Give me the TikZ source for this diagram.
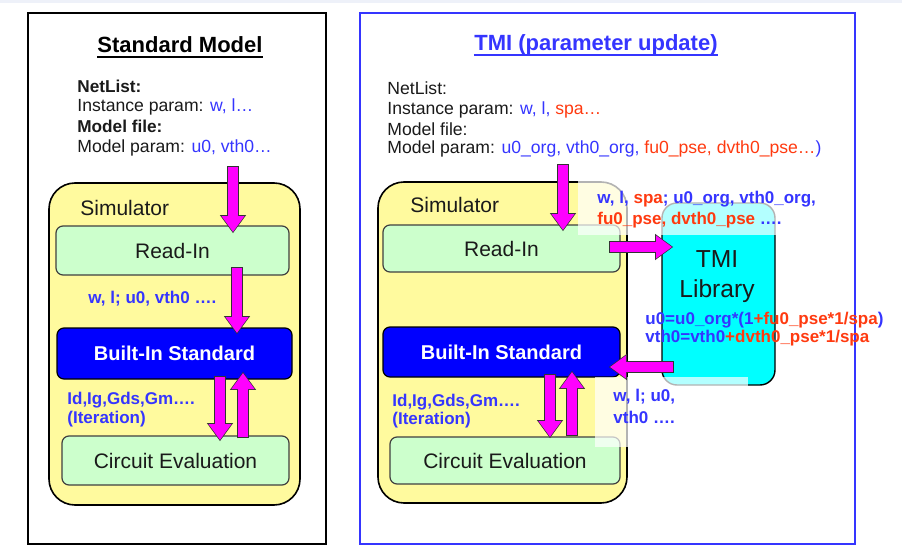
\documentclass[tikz,border=0pt]{standalone}
\usepackage{fontspec}
\setmainfont{Liberation Sans}
\usetikzlibrary{arrows.meta}
\definecolor{tblue}{HTML}{3535FF}
\definecolor{tred}{HTML}{FF3A10}
\definecolor{simy}{HTML}{FFFA9E}
\definecolor{boxg}{HTML}{CCFFCC}
\definecolor{bib}{HTML}{0000FF}
\definecolor{tmic}{HTML}{00FFFF}
\definecolor{fatm}{HTML}{FF00FF}
\definecolor{band}{HTML}{EEF1F9}
\definecolor{ink}{HTML}{1A1A1A}
\newcommand\fTitle{\bfseries\fontsize{11}{13}\selectfont}
\newcommand\fNet{\fontsize{8.8}{10}\selectfont}
\newcommand\fNetB{\bfseries\fontsize{8.6}{10}\selectfont}
\newcommand\fBox{\fontsize{10.5}{12}\selectfont}
\newcommand\fLab{\bfseries\fontsize{8.5}{10}\selectfont}
\newcommand\fTMI{\fontsize{12.3}{15}\selectfont}
\tikzset{
  frameL/.style={draw=black, line width=1pt},
  frameR/.style={draw=tblue, line width=1.2pt},
  simbox/.style={draw=black, line width=0.8pt, fill=simy, rounded corners=13pt, inner sep=0},
  stagebox/.style={draw=black!75, line width=0.6pt, fill=boxg, rounded corners=3.5pt, inner sep=0, font=\fBox, text=ink},
  stdbox/.style={draw=black, line width=0.6pt, fill=bib, rounded corners=3.5pt, inner sep=0, font=\bfseries\fontsize{10}{12}\selectfont, text=white},
  tmibox/.style={draw=black, line width=0.7pt, fill=tmic, rounded corners=7.5pt, inner sep=0},
  titletext/.style={inner sep=0, font=\fTitle},
  nettext/.style={inner sep=0, anchor=base west, font=\fNet, text=ink},
  labtext/.style={inner sep=0, anchor=base west, font=\fLab, text=tblue},
  fatout/.style={draw=black!80, line width=5.6pt, -{Triangle[width=12.4pt,length=9pt]}, shorten >=-0.6pt, shorten <=-0.5pt},
  fatin/.style={draw=fatm, line width=4.6pt, -{Triangle[width=11pt,length=8pt]}},
  veil/.style={fill=white, opacity=0.7}
}
\newcommand\fatarrow[2]{\draw[fatout] (#1) -- (#2); \draw[fatin] (#1) -- (#2);}
\begin{document}
\begin{tikzpicture}[x=0.5pt,y=-0.5pt]
\useasboundingbox (0,0) rectangle (902,546);
\fill[white] (0,0) rectangle (902,546);
\fill[band] (0,0) rectangle (902,3);

% ---------- left panel ----------
\node[frameL, inner sep=0, minimum width=149pt, minimum height=265.5pt] (frL) at (177,278.5) {};
\node[titletext] (tL) at (180,45) {Standard Model};
\draw[line width=1pt] ([yshift=-2.3pt]tL.base west) -- ([yshift=-2.3pt]tL.base east);

\node[nettext, font=\fNetB] (nL1) at (77,92) {NetList:};
\node[nettext] (nL2) at (77,112) {Instance param: \textcolor{tblue}{w, l…}};
\node[nettext, font=\fNetB] (nL3) at (77,133) {Model file:};
\node[nettext] (nL4) at (77,152) {Model param: \textcolor{tblue}{u0, vth0…}};

\node[simbox, minimum width=125.5pt, minimum height=161pt] (simL) at (174.5,344) {};
\node[inner sep=0, anchor=base west, font=\fBox, text=ink] (simLt) at (80,215.5) {Simulator};
\node[stagebox, minimum width=116.5pt, minimum height=24.5pt] (rdL) at (172.5,250.5) {Read-In};
\node[stdbox, minimum width=117.5pt, minimum height=25.5pt] (biL) at (174.5,353.5) {Built-In Standard};
\node[stagebox, minimum width=113.5pt, minimum height=24.5pt] (ceL) at (175.5,460.5) {Circuit Evaluation};

\node[labtext] (lL1) at (88,303) {w, l; u0, vth0 ….};
\node[labtext] (lL2) at (67,404) {Id,Ig,Gds,Gm….};
\node[labtext] (lL3) at (67,423) {(Iteration)};

\coordinate (a1s) at (233,167); \coordinate (a1e) at (233,232);
\coordinate (a2s) at (237,268); \coordinate (a2e) at (237,333);
\coordinate (a3s) at (220,377); \coordinate (a3e) at (220,440);
\coordinate (a4s) at (243,437); \coordinate (a4e) at (243,373);
\fatarrow{a1s}{a1e}
\fatarrow{a2s}{a2e}
\fatarrow{a3s}{a3e}
\fatarrow{a4s}{a4e}

% ---------- right panel ----------
\node[frameR, inner sep=0, minimum width=247.5pt, minimum height=265.5pt] (frR) at (607.5,278.5) {};
\node[titletext, text=tblue] (tR) at (596,45) {TMI (parameter update)};
\draw[tblue, line width=1pt] ([yshift=-2.3pt]tR.base west) -- ([yshift=-2.3pt]tR.base east);

\node[nettext] (nR1) at (387,94) {NetList:};
\node[nettext] (nR2) at (387,114) {Instance param: \textcolor{tblue}{w, l, }\textcolor{tred}{spa…}};
\node[nettext] (nR3) at (387,135) {Model file:};
\node[nettext] (nR4) at (387,154) {Model param: \textcolor{tblue}{u0\_org, vth0\_org, }\textcolor{tred}{fu0\_pse, dvth0\_pse…}\textcolor{tblue}{)}};

\node[simbox, minimum width=124.5pt, minimum height=160.5pt] (simR) at (502.5,342.5) {};
\node[inner sep=0, anchor=base west, font=\fBox, text=ink] (simRt) at (410,212.5) {Simulator};
\node[stagebox, minimum width=118.5pt, minimum height=23.5pt] (rdR) at (501.5,248.5) {Read-In};
\node[stdbox, minimum width=118.5pt, minimum height=25pt] (biR) at (501.5,352) {Built-In Standard};
\node[stagebox, minimum width=115pt, minimum height=23.5pt] (ceR) at (505,460.5) {Circuit Evaluation};
\node[tmibox, minimum width=56.5pt, minimum height=91pt] (tmi) at (718.5,294) {};

\fill[veil] (578,180) rectangle (778,235);
\fill[veil] (595,377) rectangle (748,447);

\node[inner sep=0, font=\fTMI, align=center, text=ink] (tmit) at (717,277) {TMI\\Library};

\node[labtext] (lR1) at (597,204) {w, l, \textcolor{tred}{spa}; u0\_org, vth0\_org,};
\node[labtext] (lR2) at (597,224) {\textcolor{tred}{fu0\_pse, dvth0\_pse} ….};
\node[labtext] (fR1) at (645,324) {u0=u0\_org*(1\textcolor{tred}{+fu0\_pse*1/spa})};
\node[labtext] (fR2) at (645,343) {vth0=vth0\textcolor{tred}{+dvth0\_pse*1/spa}};
\node[labtext] (lR3) at (613,401) {w, l; u0,};
\node[labtext] (lR4) at (613,423) {vth0 ….};
\node[labtext] (lR5) at (392,406) {Id,Ig,Gds,Gm….};
\node[labtext] (lR6) at (392,424) {(Iteration)};

\coordinate (b1s) at (563,165); \coordinate (b1e) at (563,230);
\coordinate (b2s) at (610,247); \coordinate (b2e) at (672,247);
\coordinate (b3s) at (673,367); \coordinate (b3e) at (610,367);
\coordinate (b4s) at (550,375); \coordinate (b4e) at (550,437);
\coordinate (b5s) at (572,435); \coordinate (b5e) at (572,372);
\fatarrow{b1s}{b1e}
\fatarrow{b2s}{b2e}
\fatarrow{b3s}{b3e}
\fatarrow{b4s}{b4e}
\fatarrow{b5s}{b5e}
\end{tikzpicture}
\end{document}
